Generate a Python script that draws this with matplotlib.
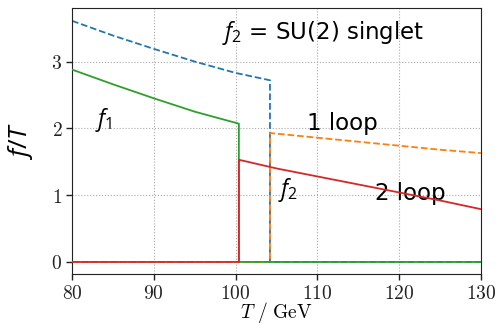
import matplotlib
matplotlib.use("Agg")
import matplotlib.pyplot as plt

plt.rcParams['mathtext.fontset'] = 'custom'
plt.rcParams['mathtext.it'] = 'Open Sans:italic'
plt.rcParams['mathtext.rm'] = 'Open Sans'

# 1 loop, f1 (blue dashed, broken phase) and f2 (orange dashed)
T_blue = [80, 85, 90, 95, 100, 104.2]
f_blue = [3.61, 3.39, 3.19, 3.00, 2.83, 2.72]
T_orange = [104.2, 110, 115, 120, 125, 130]
f_orange = [1.93, 1.86, 1.80, 1.74, 1.68, 1.63]
Tc_1loop = 104.2

# 2 loop, f1 (green) and f2 (red)
T_green = [80, 85, 90, 95, 100.4]
f_green = [2.88, 2.66, 2.45, 2.25, 2.07]
T_red = [100.4, 105, 110, 115, 120, 125, 130]
f_red = [1.53, 1.40, 1.28, 1.16, 1.04, 0.92, 0.79]
Tc_2loop = 100.4

T_min, T_max = 80, 130

fig = plt.figure(figsize=(5, 3.25), dpi=100)
ax = fig.add_axes([0.144, 0.157, 0.818, 0.818])

c_blue, c_orange, c_green, c_red = '#1f77b4', '#ff7f0e', '#2ca02c', '#d62728'

# 1 loop
ax.plot(T_blue + [Tc_1loop, Tc_1loop, T_max], f_blue + [0, 0, 0], color=c_blue, ls='--', lw=1.3, zorder=2)
ax.plot([T_min, Tc_1loop] + T_orange, [0, 0] + f_orange, color=c_orange, ls='--', lw=1.3, zorder=3)
# 2 loop
ax.plot(T_green + [Tc_2loop, T_max], f_green + [0, 0], color=c_green, lw=1.3, zorder=4)
ax.plot([T_min, Tc_2loop] + T_red, [0, 0] + f_red, color=c_red, lw=1.3, zorder=5)

ax.set_xlim(T_min, T_max)
ax.set_ylim(-0.18, 3.8)
xt = [80, 90, 100, 110, 120, 130]
yt = [0, 1, 2, 3]
ax.set_xticks(xt)
ax.set_yticks(yt)
ax.set_xticklabels([f'${v}$' for v in xt], math_fontfamily='cm', fontsize=14)
ax.set_yticklabels([f'${v}$' for v in yt], math_fontfamily='cm', fontsize=14)
ax.tick_params(direction='out', length=4, width=1, colors='#222222', pad=3)
ax.grid(True, ls=':', color='#aaaaaa', lw=0.8)
for s in ax.spines.values():
    s.set_color('#222222')

ax.set_xlabel(r'$T\ /\ \mathrm{GeV}$', math_fontfamily='cm', fontsize=14, labelpad=-2)
ax.set_ylabel(r'$f/T$', fontsize=19, labelpad=12)

ax.text(110.7, 3.43, r'$f_2$ = SU(2) singlet', fontsize=16.5, ha='center', va='center')
ax.text(83.9, 2.12, r'$f_1$', fontsize=16.5, ha='center', va='center')
ax.text(113.1, 2.07, '1 loop', fontsize=16.5, ha='center', va='center')
ax.text(106.4, 1.08, r'$f_2$', fontsize=16.5, ha='center', va='center')
ax.text(121.4, 1.03, '2 loop', fontsize=16.5, ha='center', va='center')

fig.savefig('out.png', dpi=100)
